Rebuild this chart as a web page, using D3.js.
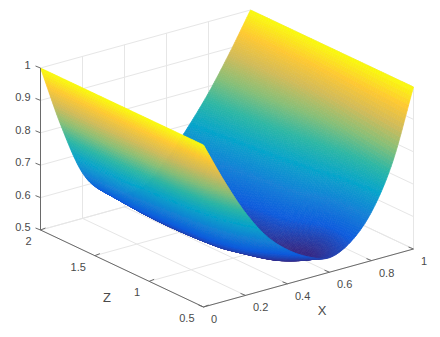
<!DOCTYPE html>
<html lang="en">
<head>
  <meta charset="UTF-8">
  <title>Surface</title>
  <style>
    html, body { margin: 0; background: #fff; }
    svg { display: block; }
    text { font-family: "Liberation Sans", Arial, sans-serif; fill: #4a4a4a; font-size: 11px; }
  </style>
  <script src="https://d3js.org/d3.v7.min.js"></script>
</head>
<body>
<script>
  // surface heights, one row per Z
  var xValues = [0, 0.1, 0.2, 0.3, 0.4, 0.5, 0.6, 0.7, 0.8, 0.9, 1];
  var zValues = [2, 1.5, 1, 0.75, 0.5];
  var yAtZ2   = [1, 0.80, 0.64, 0.565, 0.54, 0.55, 0.61, 0.69, 0.78, 0.885, 1];
  var yAtZ15  = [1, 0.805, 0.64, 0.553, 0.525, 0.53, 0.58, 0.655, 0.75, 0.86, 1];
  var yAtZ1   = [1, 0.82, 0.67, 0.565, 0.525, 0.522, 0.555, 0.62, 0.705, 0.82, 1];
  var yAtZ075 = [1, 0.84, 0.70, 0.60, 0.545, 0.515, 0.515, 0.565, 0.665, 0.80, 1];
  var yAtZ05  = [1, 0.87, 0.755, 0.665, 0.605, 0.565, 0.545, 0.575, 0.65, 0.785, 1];
  var rows = [yAtZ2, yAtZ15, yAtZ1, yAtZ075, yAtZ05];

  var xTicks = [0, 0.2, 0.4, 0.6, 0.8, 1];
  var zTicks = [0.5, 1, 1.5, 2];
  var yTicks = [0.5, 0.6, 0.7, 0.8, 0.9, 1];

  var parula = ["#352a87", "#0f5cdd", "#1481d6", "#06a4ca", "#2eb7a4", "#87bf77", "#d1bb59", "#fec832", "#f9fb0e"];

  var width = 440, height = 337;

  var svg = d3.select("body").append("svg")
    .attr("width", width)
    .attr("height", height);

  // softens the mesh so single cells don't show
  svg.append("defs").append("filter")
    .attr("id", "soft")
    .append("feGaussianBlur")
    .attr("stdDeviation", 0.6);

  // oblique projection, the box is a parallelogram on screen
  var sxX = d3.scaleLinear().domain([0, 1]).range([0, 210]);
  var sxZ = d3.scaleLinear().domain([2, 0.5]).range([0, 163]);
  var syX = d3.scaleLinear().domain([0, 1]).range([0, -58]);
  var syZ = d3.scaleLinear().domain([2, 0.5]).range([0, 77]);
  var syY = d3.scaleLinear().domain([0.5, 1]).range([0, -162]);

  function project(x, z, y) {
    return [40.5 + sxX(x) + sxZ(z), 230 + syX(x) + syZ(z) + syY(y)];
  }

  var color = d3.scaleLinear()
    .domain(d3.range(parula.length).map(function(i) { return 0.52 + 0.48 * i / (parula.length - 1); }))
    .range(parula)
    .clamp(true);

  var line = function(a, b) { return "M" + a[0] + "," + a[1] + "L" + b[0] + "," + b[1]; };

  // back walls and floor grid
  var grid = svg.append("g").attr("fill", "none").attr("stroke", "#e6e6e6").attr("stroke-width", 1);
  xTicks.forEach(function(x) {
    grid.append("path").attr("d", line(project(x, 0.5, 0.5), project(x, 2, 0.5)));
    grid.append("path").attr("d", line(project(x, 2, 0.5), project(x, 2, 1)));
  });
  zTicks.forEach(function(z) {
    grid.append("path").attr("d", line(project(0, z, 0.5), project(1, z, 0.5)));
    grid.append("path").attr("d", line(project(1, z, 0.5), project(1, z, 1)));
  });
  yTicks.forEach(function(y) {
    grid.append("path").attr("d", line(project(0, 2, y), project(1, 2, y)));
    grid.append("path").attr("d", line(project(1, 2, y), project(1, 0.5, y)));
  });

  // smooth shading between the read values, like shading interp
  function catmull(p0, p1, p2, p3, t) {
    return 0.5 * (2 * p1 + (p2 - p0) * t + (2 * p0 - 5 * p1 + 4 * p2 - p3) * t * t + (3 * p1 - p0 - 3 * p2 + p3) * t * t * t);
  }
  function spline(arr, u) {
    var n = arr.length - 1;
    var i = Math.min(Math.floor(u * n), n - 1);
    var get = function(k) {
      if (k < 0) return 2 * arr[0] - arr[1];
      if (k > n) return 2 * arr[n] - arr[n - 1];
      return arr[k];
    };
    return catmull(get(i - 1), get(i), get(i + 1), get(i + 2), u * n - i);
  }

  var rowAt = d3.scaleLinear().domain(zValues).range(zValues.map(function(z, i) { return i / (zValues.length - 1); }));
  var uAt = d3.scaleLinear().domain([0, 1]).range([xValues[0], xValues[xValues.length - 1]]);
  var zAt = d3.scaleLinear().domain([0, 1]).range([zValues[0], zValues[zValues.length - 1]]);

  function surfaceY(u, v) {
    var column = rows.map(function(r) { return spline(r, u); });
    return spline(column, rowAt(zAt(v)));
  }

  var nu = 170, nv = 70;
  var cells = [];
  // painter order: far corner (x=1, z=2) first
  d3.range(nv).forEach(function(j) {
    d3.range(nu - 1, -1, -1).forEach(function(i) {
      cells.push({ i: i, j: j });
    });
  });

  function vertex(i, j) {
    var u = i / nu, v = j / nv;
    return project(uAt(u), zAt(v), surfaceY(u, v));
  }

  svg.append("g").attr("filter", "url(#soft)").selectAll("path").data(cells).enter().append("path")
    .attr("d", function(d) {
      return "M" + [vertex(d.i, d.j), vertex(d.i + 1, d.j), vertex(d.i + 1, d.j + 1), vertex(d.i, d.j + 1)]
        .map(function(p) { return p[0].toFixed(2) + "," + p[1].toFixed(2); }).join("L") + "Z";
    })
    .attr("fill", function(d) { return color(surfaceY((d.i + 0.5) / nu, (d.j + 0.5) / nv)); })
    .attr("stroke", function(d) { return color(surfaceY((d.i + 0.5) / nu, (d.j + 0.5) / nv)); })
    .attr("stroke-width", 0.7);

  // axes
  var axes = svg.append("g").attr("fill", "none").attr("stroke", "#6a6a6a").attr("stroke-width", 1);
  axes.append("path").attr("d", line(project(0, 2, 0.5), project(0, 2, 1)));
  axes.append("path").attr("d", line(project(0, 2, 0.5), project(0, 0.5, 0.5)));
  axes.append("path").attr("d", line(project(0, 0.5, 0.5), project(1, 0.5, 0.5)));

  yTicks.forEach(function(y) {
    var p = project(0, 2, y);
    axes.append("path").attr("d", line(p, [p[0] - 5, p[1] - 2]));
    svg.append("text").attr("x", p[0] - 10).attr("y", p[1] + 1)
      .attr("text-anchor", "end").text(d3.format("")(y));
  });
  zTicks.forEach(function(z) {
    var p = project(0, z, 0.5);
    axes.append("path").attr("d", line(p, [p[0] + 5, p[1] - 2]));
    svg.append("text").attr("x", p[0] - 9).attr("y", p[1] + 15)
      .attr("text-anchor", "end").text(d3.format("")(z));
  });
  xTicks.forEach(function(x) {
    var p = project(x, 0.5, 0.5);
    axes.append("path").attr("d", line(p, [p[0] - 5, p[1] - 2]));
    svg.append("text").attr("x", p[0] + 7.5).attr("y", p[1] + 16)
      .attr("text-anchor", "start").text(d3.format("")(x));
  });

  svg.append("text").attr("x", 107).attr("y", 302).attr("text-anchor", "middle").style("font-size", "13px").text("Z");
  svg.append("text").attr("x", 322).attr("y", 315).attr("text-anchor", "middle").style("font-size", "13px").text("X");
</script>
</body>
</html>
